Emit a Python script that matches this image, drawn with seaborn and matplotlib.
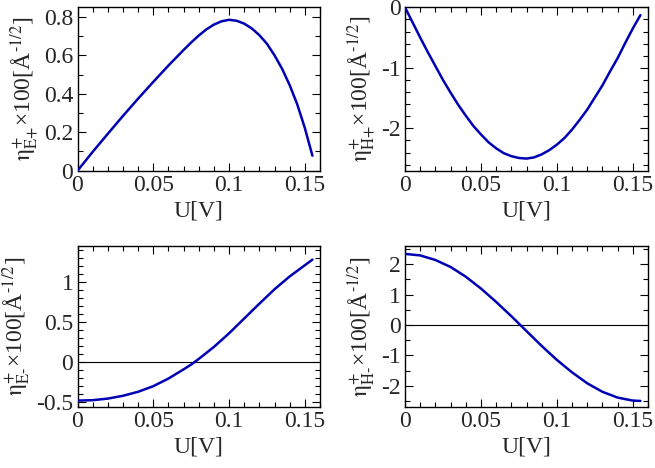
import numpy as np
import pandas as pd
import matplotlib
matplotlib.use("Agg")
import matplotlib.pyplot as plt
from matplotlib.ticker import MultipleLocator
import seaborn as sns

# ---- data ----
u_e_plus = [0, 0.01, 0.02, 0.03, 0.04, 0.05, 0.06, 0.07, 0.075, 0.08, 0.085, 0.09, 0.095,
            0.10, 0.105, 0.11, 0.115, 0.12, 0.125, 0.13, 0.135, 0.14, 0.145, 0.15, 0.155]
eta_e_plus = [0.0, 0.098, 0.192, 0.285, 0.375, 0.462, 0.547, 0.628, 0.667, 0.703, 0.735, 0.76, 0.777,
              0.785, 0.78, 0.765, 0.74, 0.705, 0.66, 0.60, 0.53, 0.445, 0.345, 0.222, 0.078]

u_h_plus = [0, 0.005, 0.01, 0.015, 0.02, 0.025, 0.03, 0.035, 0.04, 0.045, 0.05, 0.055,
            0.06, 0.065, 0.07, 0.075, 0.08, 0.085, 0.09, 0.095, 0.10, 0.105, 0.11, 0.115,
            0.12, 0.125, 0.13, 0.135, 0.14, 0.145, 0.15, 0.155]
eta_h_plus = [0.0, -0.25, -0.50, -0.74, -0.97, -1.20, -1.41, -1.61, -1.79, -1.96, -2.10, -2.23,
              -2.33, -2.41, -2.46, -2.49, -2.50, -2.48, -2.43, -2.36, -2.27, -2.16, -2.02, -1.86,
              -1.69, -1.49, -1.29, -1.06, -0.84, -0.59, -0.35, -0.13]

u_e_minus = [0, 0.01, 0.02, 0.03, 0.04, 0.05, 0.06, 0.07, 0.075, 0.08, 0.09, 0.10, 0.11,
             0.12, 0.13, 0.14, 0.15, 0.155]
eta_e_minus = [-0.48, -0.475, -0.455, -0.42, -0.37, -0.30, -0.205, -0.09, -0.03, 0.04, 0.19,
               0.36, 0.545, 0.73, 0.91, 1.07, 1.21, 1.28]

u_h_minus = [0, 0.01, 0.02, 0.03, 0.04, 0.05, 0.06, 0.07, 0.08, 0.09, 0.10, 0.11,
             0.12, 0.13, 0.14, 0.15, 0.155]
eta_h_minus = [2.34, 2.29, 2.14, 1.91, 1.59, 1.20, 0.76, 0.29, -0.20, -0.69, -1.15, -1.56,
               -1.92, -2.20, -2.39, -2.49, -2.50]

x_ticks = [0, 0.05, 0.1, 0.15]
x_tick_labels = ["0", "0.05", "0.1", "0.15"]

panels = [
    dict(u=u_e_plus, v=eta_e_plus, sub="E+", ylim=(0, 0.85),
         yt=[0, 0.2, 0.4, 0.6, 0.8], ytl=["0", "0.2", "0.4", "0.6", "0.8"], minor=0.1, zero=False),
    dict(u=u_h_plus, v=eta_h_plus, sub="H+", ylim=(-2.7, 0),
         yt=[-2, -1, 0], ytl=["-2", "-1", "0"], minor=0.2, zero=False),
    dict(u=u_e_minus, v=eta_e_minus, sub="E-", ylim=(-0.56, 1.45),
         yt=[-0.5, 0, 0.5, 1], ytl=["-0.5", "0", "0.5", "1"], minor=0.1, zero=True),
    dict(u=u_h_minus, v=eta_h_minus, sub="H-", ylim=(-2.7, 2.6),
         yt=[-2, -1, 0, 1, 2], ytl=["-2", "-1", "0", "1", "2"], minor=0.5, zero=True),
]

sns.set_style("ticks")
plt.rcParams["font.family"] = ["Liberation Serif", "DejaVu Serif"]
plt.rcParams["mathtext.fontset"] = "stix"

W, H = 655, 468
fig = plt.figure(figsize=(W / 100, H / 100), dpi=100)

boxes = [
    (77.5, 7.3, 320, 170.7),
    (405, 7.3, 648, 170.7),
    (77.5, 246, 320, 407),
    (405, 246, 648, 407),
]

line_color = "#0000b4"

for p, (x0, y0, x1, y1) in zip(panels, boxes):
    ax = fig.add_axes([x0 / W, 1 - y1 / H, (x1 - x0) / W, (y1 - y0) / H])
    df = pd.DataFrame({"U": p["u"], "eta": p["v"]})
    if p["zero"]:
        ax.axhline(0, color="black", lw=0.8, zorder=1)
    sns.lineplot(data=df, x="U", y="eta", ax=ax, color=line_color, lw=1.8, zorder=3)
    ax.set_xlim(0, 0.16)
    ax.set_ylim(*p["ylim"])
    ax.set_xticks(x_ticks)
    ax.set_xticklabels(x_tick_labels)
    ax.set_yticks(p["yt"])
    ax.set_yticklabels(p["ytl"])
    ax.xaxis.set_minor_locator(MultipleLocator(0.01))
    ax.yaxis.set_minor_locator(MultipleLocator(p["minor"]))
    ax.tick_params(which="both", direction="in", top=True, right=True,
                   labelsize=17, color="black", width=0.8)
    ax.tick_params(which="major", length=6, pad=3)
    ax.tick_params(which="minor", length=3.5)
    for s in ax.spines.values():
        s.set_color("black")
        s.set_linewidth(1.0)
    ax.set_xlabel("U[V]", fontsize=17, labelpad=3)
    ax.set_ylabel(r"$\mathrm{η}^{+}_{\text{%s}}$×100[Å$^{\text{-1/2}}$]" % p["sub"],
                  fontsize=17, labelpad=2)

fig.savefig("out.png", dpi=100)
